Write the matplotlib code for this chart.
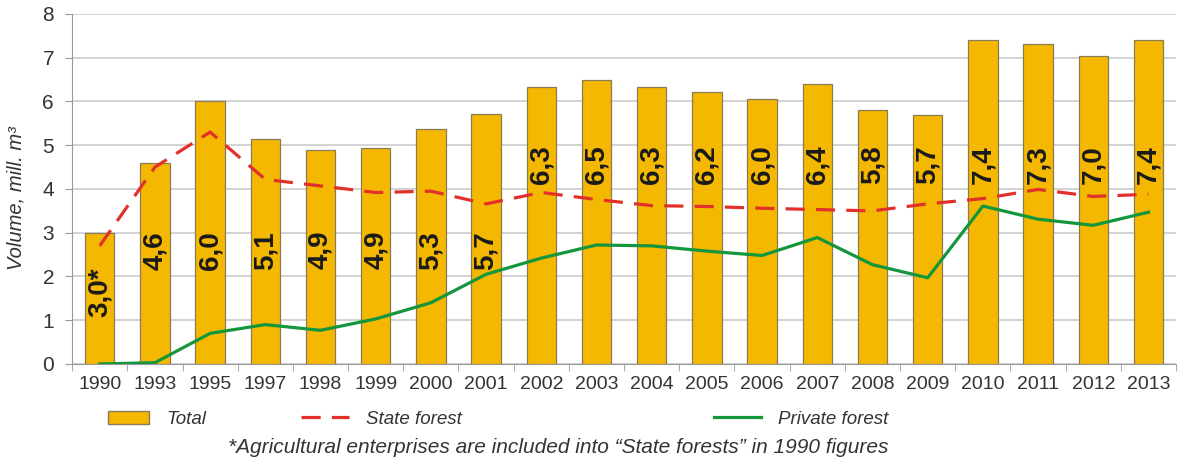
import numpy as np
import matplotlib
matplotlib.use("Agg")
import matplotlib.pyplot as plt
from matplotlib.patches import Patch
from matplotlib.lines import Line2D

plt.rcParams['font.family'] = ['Liberation Sans', 'DejaVu Sans']

years = ['1990', '1993', '1995', '1997', '1998', '1999', '2000', '2001', '2002', '2003',
         '2004', '2005', '2006', '2007', '2008', '2009', '2010', '2011', '2012', '2013']
total = [3.0, 4.6, 6.0, 5.14, 4.88, 4.93, 5.37, 5.71, 6.33, 6.49,
         6.33, 6.21, 6.05, 6.4, 5.8, 5.7, 7.4, 7.31, 7.03, 7.4]
total_labels = ['3,0*', '4,6', '6,0', '5,1', '4,9', '4,9', '5,3', '5,7', '6,3', '6,5',
                '6,3', '6,2', '6,0', '6,4', '5,8', '5,7', '7,4', '7,3', '7,0', '7,4']
state = [2.7, 4.5, 5.3, 4.22, 4.07, 3.92, 3.95, 3.66, 3.92, 3.76,
         3.62, 3.6, 3.56, 3.53, 3.5, 3.66, 3.78, 3.99, 3.83, 3.88]
private = [0.0, 0.03, 0.7, 0.9, 0.77, 1.03, 1.4, 2.05, 2.42, 2.72,
           2.7, 2.58, 2.48, 2.89, 2.27, 1.97, 3.61, 3.31, 3.17, 3.47]

bar_col = '#F5B800'
red = '#E2312B'
green = '#14963C'
txt = '#333333'

fig = plt.figure(figsize=(11.82, 4.59), dpi=100)
ax = fig.add_axes([0.061, 0.207, 0.934, 0.7625])

x = np.arange(len(years))
ax.bar(x, total, width=0.53, color=bar_col, edgecolor='#8a7a55', linewidth=0.9, zorder=2)
ax.plot(x, state, color=red, lw=2.3, dashes=(6, 3.5), zorder=3)
ax.plot(x, private, color=green, lw=2.3, zorder=3)

# value labels inside bars
for i, lab in enumerate(total_labels):
    if i == 0:
        ly = 1.65
    elif i < 8:
        ly = 2.6
    else:
        ly = 4.55
    ax.text(x[i], ly, lab, rotation=90, ha='center', va='center',
            fontsize=20, fontweight='bold', color='#1a1a1a',
            family=['Liberation Sans Narrow', 'Liberation Sans'], zorder=4)

ax.set_xlim(-0.5, len(years) - 0.5)
ax.set_ylim(0, 8)
ax.set_yticks(range(0, 9))
ax.set_xticks(x)
ax.set_xticklabels(years)
ax.set_xticks(np.arange(-0.5, len(years), 1), minor=True)
ax.tick_params(axis='x', which='major', length=0, labelsize=14, colors=txt, pad=9)
ax.tick_params(axis='x', which='minor', length=5, color='#999999')
ax.tick_params(axis='y', length=5, color='#999999', labelsize=15, colors=txt, pad=8)
ax.grid(axis='y', color='#c8c8c8', lw=1.1, zorder=0)
ax.set_axisbelow(True)
for s in ['top', 'right']:
    ax.spines[s].set_visible(False)
ax.spines['left'].set_color('#999999')
ax.spines['bottom'].set_color('#999999')
ax.set_ylabel('Volume, mill. m\u00b3', fontsize=14.5, style='italic', color=txt)
ax.yaxis.set_label_coords(-0.042, 0.474)

# legend entries
lkw = dict(frameon=False, handletextpad=0.9, labelcolor=txt,
           prop={'style': 'italic', 'size': 13.5})
fig.legend([Patch(facecolor=bar_col, edgecolor='#8a7a55')], ['Total'], handlelength=2.2,
           loc='center left', bbox_to_anchor=(0.077, 0.087), **lkw)
fig.legend([Line2D([], [], color=red, lw=2.3, dashes=(6, 3.5))], ['State forest'], handlelength=2.6,
           loc='center left', bbox_to_anchor=(0.240, 0.087), **lkw)
fig.legend([Line2D([], [], color=green, lw=2.3)], ['Private forest'], handlelength=2.5,
           loc='center left', bbox_to_anchor=(0.590, 0.087), **lkw)

fig.text(0.4725, 0.026, '*Agricultural enterprises are included into \u201cState forests\u201d in 1990 figures',
         ha='center', va='center', fontsize=15, style='italic', color=txt)

fig.savefig('out.png', dpi=100)
